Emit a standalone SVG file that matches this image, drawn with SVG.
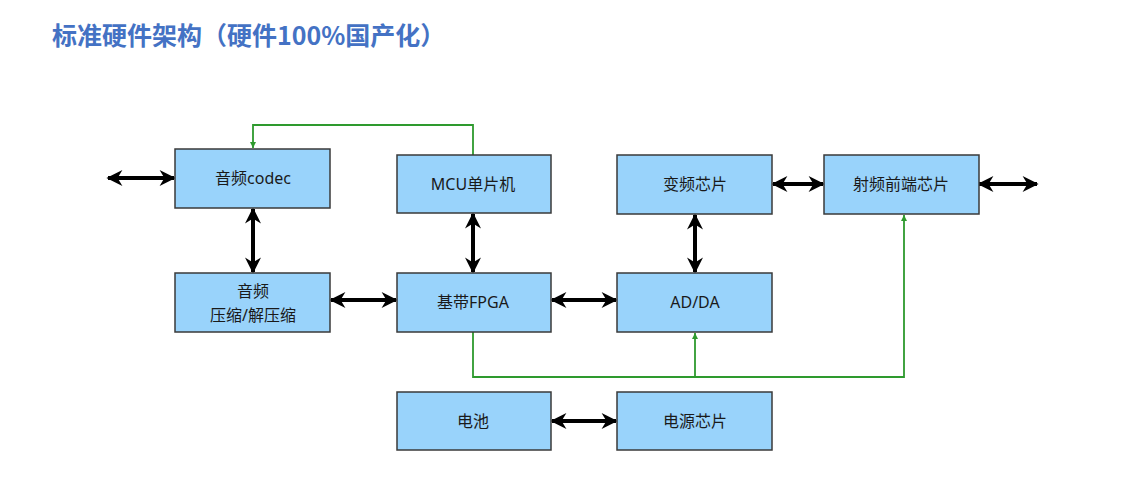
<svg xmlns="http://www.w3.org/2000/svg" width="1125" height="487" viewBox="0 0 1125 487">
<defs>
<style>
.box{fill:#99d3fb;stroke:#3a3a3a;stroke-width:1.5}
.t{font-family:"Noto Sans","Noto Sans CJK SC",sans-serif;font-size:16px;fill:#1a1a1a;text-anchor:middle}
.bk{stroke:#000;stroke-width:4;fill:none;marker-start:url(#ah);marker-end:url(#ah)}
.gr{stroke:#2e9a2e;stroke-width:1.8;fill:none}
</style>
<marker id="ah" viewBox="0 0 10 10" refX="9" refY="5" markerWidth="4.5" markerHeight="4" orient="auto-start-reverse" markerUnits="strokeWidth"><path d="M0,0L10,5L0,10L3,5z" fill="#000"/></marker>
<marker id="ga" viewBox="0 0 10 10" refX="10" refY="5" markerWidth="6" markerHeight="7" orient="auto" markerUnits="userSpaceOnUse"><path d="M0,0L10,5L0,10z" fill="#2e9a2e"/></marker>
</defs>
<rect width="1125" height="487" fill="#fff"/>
<text x="52" y="45" font-family="'Noto Sans CJK SC',sans-serif" font-size="25" font-weight="bold" fill="#4472c4">标准硬件架构（硬件100%国产化）</text>
<g id="connectors">
<path class="gr" d="M473,155V125H253V148" marker-end="url(#ga)"/>
<path class="gr" d="M473,332V377H904V215" marker-end="url(#ga)"/>
<path class="gr" d="M695,377V333" marker-end="url(#ga)"/>
<path class="bk" d="M108,178H174"/>
<path class="bk" d="M979,184H1037"/>
<path class="bk" d="M773,184H823"/>
<path class="bk" d="M253,209V272"/>
<path class="bk" d="M473,214V272"/>
<path class="bk" d="M331,300H396"/>
<path class="bk" d="M552,300H616"/>
<path class="bk" d="M695,215V272"/>
<path class="bk" d="M552,421H616"/>
</g>
<g id="codec"><rect class="box" x="175" y="149" width="155" height="59"/><text class="t" x="253" y="184">音频codec</text></g>
<g id="mcu"><rect class="box" x="397" y="155" width="154" height="58"/><text class="t" x="473" y="190">MCU单片机</text></g>
<g id="freq"><rect class="box" x="617" y="155" width="155" height="59"/><text class="t" x="695" y="190">变频芯片</text></g>
<g id="rf"><rect class="box" x="824" y="155" width="155" height="59"/><text class="t" x="901" y="190">射频前端芯片</text></g>
<g id="comp"><rect class="box" x="175" y="273" width="155" height="59"/><text class="t" x="253" y="297">音频</text><text class="t" x="253" y="321">压缩/解压缩</text></g>
<g id="fpga"><rect class="box" x="397" y="273" width="154" height="59"/><text class="t" x="473" y="308">基带FPGA</text></g>
<g id="adda"><rect class="box" x="617" y="273" width="155" height="59"/><text class="t" x="695" y="308">AD/DA</text></g>
<g id="battery"><rect class="box" x="397" y="392" width="154" height="58"/><text class="t" x="473" y="427">电池</text></g>
<g id="power"><rect class="box" x="617" y="392" width="155" height="58"/><text class="t" x="695" y="427">电源芯片</text></g>
</svg>
